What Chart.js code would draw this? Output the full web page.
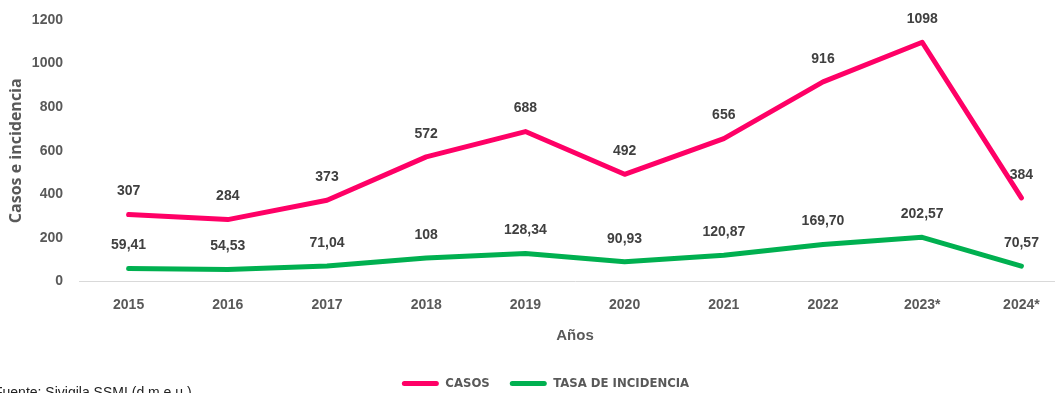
<!DOCTYPE html>
<html lang="es">
<head>
<meta charset="utf-8">
<title>Casos e incidencia por año</title>
<script src="https://cdn.jsdelivr.net/npm/chart.js@4.4.1/dist/chart.umd.min.js"></script>
<style>
  html, body { margin: 0; padding: 0; background: #fff; overflow: hidden; }
  #wrap { position: relative; width: 1055px; height: 393px; overflow: hidden; }
  #box { position: absolute; left: 0; top: 0; width: 1071px; height: 400px; }
  #fuente {
    position: absolute; left: -6px; top: 384px;
    font: 14px "Liberation Sans", Arial, sans-serif; color: #222; white-space: nowrap;
  }
</style>
</head>
<body>
<div id="wrap">
  <div id="box"><canvas id="grafico" width="1071" height="400"></canvas></div>
  <div id="fuente">Fuente: Sivigila SSMI (d.m.e.u.)</div>
</div>
<script>
// Datos por año
const anios = ['2015', '2016', '2017', '2018', '2019', '2020', '2021', '2022', '2023*', '2024*'];
const casos = [307, 284, 373, 572, 688, 492, 656, 916, 1098, 384];
const tasaIncidencia = [59.41, 54.53, 71.04, 108, 128.34, 90.93, 120.87, 169.70, 202.57, 70.57];
const ticksY = [0, 200, 400, 600, 800, 1000, 1200];

const grisTexto = '#595959';
const grisEtiqueta = '#404040';
const fuenteBase = '"Liberation Sans", Arial, sans-serif';

// Formato con coma decimal (enteros sin decimales)
function formatoValor(v) {
  if (Number.isInteger(v)) return String(v);
  return v.toFixed(2).replace('.', ',');
}

// Etiquetas de valor sobre cada punto
const etiquetasValor = {
  id: 'etiquetasValor',
  afterDatasetsDraw(chart) {
    const ctx = chart.ctx;
    ctx.save();
    ctx.font = 'bold 14px ' + fuenteBase;
    ctx.fillStyle = grisEtiqueta;
    ctx.textAlign = 'center';
    ctx.textBaseline = 'middle';
    chart.data.datasets.forEach((ds, i) => {
      const meta = chart.getDatasetMeta(i);
      meta.data.forEach((pt, j) => {
        ctx.fillText(formatoValor(ds.data[j]), pt.x, pt.y - 23);
      });
    });
    ctx.restore();
  }
};

// Desplaza un poco la leyenda a la derecha
const moverLeyenda = {
  id: 'moverLeyenda',
  afterLayout(chart) {
    if (chart.legend) {
      chart.legend.left += 10;
      chart.legend.right += 10;
    }
  }
};

new Chart(document.getElementById('grafico'), {
  type: 'line',
  data: {
    labels: anios,
    datasets: [
      {
        label: 'CASOS',
        data: casos,
        borderColor: '#FF0066',
        backgroundColor: '#FF0066',
        borderWidth: 5,
        pointRadius: 0,
        tension: 0,
        borderCapStyle: 'round',
        borderJoinStyle: 'round'
      },
      {
        label: 'TASA DE INCIDENCIA',
        data: tasaIncidencia,
        borderColor: '#00B050',
        backgroundColor: '#00B050',
        borderWidth: 5,
        pointRadius: 0,
        tension: 0,
        borderCapStyle: 'round',
        borderJoinStyle: 'round'
      }
    ]
  },
  options: {
    responsive: false,
    animation: false,
    layout: { padding: { top: 20, right: 0, bottom: 0, left: 0 } },
    scales: {
      x: {
        offset: true,
        grid: { display: false, drawTicks: false },
        border: { display: true, color: '#D9D9D9', width: 1 },
        ticks: {
          color: grisTexto,
          padding: 15,
          font: { family: fuenteBase, size: 14, weight: 'bold' }
        },
        title: {
          display: true,
          text: 'Años',
          color: grisTexto,
          padding: { top: 0, bottom: 12 },
          font: { family: fuenteBase, size: 15, weight: 'bold' }
        },
        afterFit(scale) { scale.height = 75.5; }
      },
      y: {
        min: 0,
        max: 1200,
        afterBuildTicks(scale) { scale.ticks = ticksY.map(v => ({ value: v })); },
        // marcas ocultas: solo separan las etiquetas del área del gráfico
        grid: { display: false, drawTicks: true, tickLength: 14 },
        border: { display: false },
        ticks: {
          color: grisTexto,
          padding: 2,
          callback: v => String(v),
          font: { family: fuenteBase, size: 14, weight: 'bold' }
        },
        title: {
          display: true,
          text: 'Casos e incidencia',
          color: grisTexto,
          padding: { top: 7, bottom: 4 },
          font: { family: '"Open Sans", "Liberation Sans", sans-serif', size: 16, weight: 'bold' }
        },
        afterFit(scale) { scale.width = 79; }
      }
    },
    plugins: {
      legend: {
        position: 'bottom',
        labels: {
          boxWidth: 37,
          boxHeight: 5,
          padding: 20,
          color: grisTexto,
          font: { family: '"Liberation Sans Narrow", "DejaVu Sans Condensed", sans-serif', size: 13, weight: 'bold' },
          generateLabels(chart) {
            return chart.data.datasets.map((ds, i) => ({
              text: ds.label,
              fillStyle: ds.borderColor,
              strokeStyle: ds.borderColor,
              lineWidth: 0,
              borderRadius: 2.5,
              hidden: !chart.isDatasetVisible(i),
              datasetIndex: i,
              fontColor: grisTexto
            }));
          }
        }
      },
      tooltip: { enabled: false }
    }
  },
  plugins: [etiquetasValor, moverLeyenda]
});
</script>
</body>
</html>
